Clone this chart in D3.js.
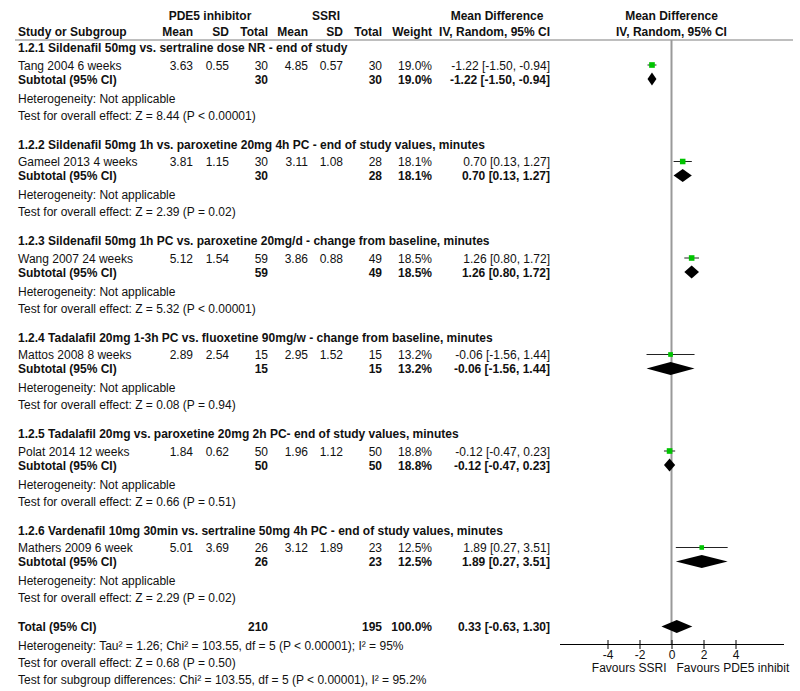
<!DOCTYPE html>
<html>
<head>
<meta charset="utf-8">
<script src="https://cdn.jsdelivr.net/npm/d3@7/dist/d3.min.js"></script>
<style>
  html, body { margin: 0; padding: 0; background: #fff; }
  svg text { font-family: Arial, "Liberation Sans", sans-serif; font-size: 12px; fill: #111; }
  .b { font-weight: bold; }
</style>
</head>
<body>
<svg id="chart" width="800" height="691"></svg>
<script>
// ---------------- DATA ----------------
const sectionLabels = [
  "1.2.1 Sildenafil 50mg vs. sertraline dose NR - end of study",
  "1.2.2 Sildenafil 50mg 1h vs. paroxetine 20mg 4h PC - end of study values, minutes",
  "1.2.3 Sildenafil 50mg 1h PC vs. paroxetine 20mg/d - change from baseline, minutes",
  "1.2.4 Tadalafil 20mg 1-3h PC vs. fluoxetine 90mg/w - change from baseline, minutes",
  "1.2.5 Tadalafil 20mg vs. paroxetine 20mg 2h PC- end of study values, minutes",
  "1.2.6 Vardenafil 10mg 30min vs. sertraline 50mg 4h PC - end of study values, minutes"
];
const studyNames = ["Tang 2004 6 weeks", "Gameel 2013 4 weeks", "Wang 2007 24 weeks",
                    "Mattos 2008 8 weeks", "Polat 2014 12 weeks", "Mathers 2009 6 week"];
const pdeMean = [3.63, 3.81, 5.12, 2.89, 1.84, 5.01];
const pdeSD   = [0.55, 1.15, 1.54, 2.54, 0.62, 3.69];
const pdeN    = [30, 30, 59, 15, 50, 26];
const ssriMean = [4.85, 3.11, 3.86, 2.95, 1.96, 3.12];
const ssriSD   = [0.57, 1.08, 0.88, 1.52, 1.12, 1.89];
const ssriN    = [30, 28, 49, 15, 50, 23];
const weights  = [19.0, 18.1, 18.5, 13.2, 18.8, 12.5];
const md  = [-1.22, 0.70, 1.26, -0.06, -0.12, 1.89];
const ciLo = [-1.50, 0.13, 0.80, -1.56, -0.47, 0.27];
const ciHi = [-0.94, 1.27, 1.72, 1.44, 0.23, 3.51];
const heterogeneityText = Array(6).fill("Heterogeneity: Not applicable");
const overallEffectText = [
  "Test for overall effect: Z = 8.44 (P < 0.00001)",
  "Test for overall effect: Z = 2.39 (P = 0.02)",
  "Test for overall effect: Z = 5.32 (P < 0.00001)",
  "Test for overall effect: Z = 0.08 (P = 0.94)",
  "Test for overall effect: Z = 0.66 (P = 0.51)",
  "Test for overall effect: Z = 2.29 (P = 0.02)"
];
const totalRow = { label: "Total (95% CI)", n1: 210, n2: 195, weight: 100.0, md: 0.33, lo: -0.63, hi: 1.30 };
const totalNotes = [
  "Heterogeneity: Tau\u00B2 = 1.26; Chi\u00B2 = 103.55, df = 5 (P < 0.00001); I\u00B2 = 95%",
  "Test for overall effect: Z = 0.68 (P = 0.50)",
  "Test for subgroup differences: Chi\u00B2 = 103.55, df = 5 (P < 0.00001), I\u00B2 = 95.2%"
];
const axisTicks = [-4, -2, 0, 2, 4];
const axisDomain = [-7, 7];
const favourLeft = "Favours SSRI";
const favourRight = "Favours PDE5 inhibit";

// ---------------- LAYOUT ----------------
const svg = d3.select("#chart");
const x = d3.scaleLinear().domain(axisDomain).range([559.5, 783.5]);
const col = { name: 18, m1: 193, sd1: 229, n1: 268, m2: 308, sd2: 343, n2: 382, w: 432, ci: 550 };
const sectionTop = 52, sectionStep = 96.5;
const off = { study: 17.5, sub: 31.5, het: 50.5, test: 67.5 };
const axisY = 644;
const f2 = v => (+v).toFixed(2), f1 = v => (+v).toFixed(1);
const ciText = (m, l, h) => `${f2(m)} [${f2(l)}, ${f2(h)}]`;

function txt(xp, yp, s, anchor, bold) {
  svg.append("text").attr("x", xp).attr("y", yp)
    .attr("text-anchor", anchor || "start")
    .attr("class", bold ? "b" : null).text(s);
}

// header
txt(210, 20, "PDE5 inhibitor", "middle", true);
txt(326, 20, "SSRI", "middle", true);
txt(497, 20, "Mean Difference", "middle", true);
txt(x(0), 20, "Mean Difference", "middle", true);
txt(col.name, 36, "Study or Subgroup", "start", true);
[["Mean", col.m1], ["SD", col.sd1], ["Total", col.n1], ["Mean", col.m2], ["SD", col.sd2], ["Total", col.n2], ["Weight", col.w]]
  .forEach(([s, xp]) => txt(xp, 36, s, "end", true));
txt(col.ci, 36, "IV, Random, 95% CI", "end", true);
txt(x(0), 36, "IV, Random, 95% CI", "middle", true);

svg.append("line").attr("x1", 15).attr("x2", 793).attr("y1", 40).attr("y2", 40)
  .attr("stroke", "#a8a8a8").attr("stroke-width", 1.5);

// zero line
svg.append("line").attr("x1", x(0)).attr("x2", x(0)).attr("y1", 40).attr("y2", axisY)
  .attr("stroke", "#999").attr("stroke-width", 2);

const marks = svg.append("g");
function diamond(cy, m, l, h, half) {
  const pts = [[x(l), cy], [x(m), cy - half], [x(h), cy], [x(m), cy + half]];
  marks.append("path").attr("d", "M" + pts.join("L") + "Z").attr("fill", "#000");
}

sectionLabels.forEach((lab, i) => {
  const y0 = sectionTop + i * sectionStep;
  txt(col.name, y0, lab, "start", true);
  const ys = y0 + off.study;
  txt(col.name, ys, studyNames[i]);
  txt(col.m1, ys, f2(pdeMean[i]), "end");
  txt(col.sd1, ys, f2(pdeSD[i]), "end");
  txt(col.n1, ys, pdeN[i], "end");
  txt(col.m2, ys, f2(ssriMean[i]), "end");
  txt(col.sd2, ys, f2(ssriSD[i]), "end");
  txt(col.n2, ys, ssriN[i], "end");
  txt(col.w, ys, f1(weights[i]) + "%", "end");
  txt(col.ci, ys, ciText(md[i], ciLo[i], ciHi[i]), "end");
  const yb = y0 + off.sub;
  txt(col.name, yb, "Subtotal (95% CI)", "start", true);
  txt(col.n1, yb, pdeN[i], "end", true);
  txt(col.n2, yb, ssriN[i], "end", true);
  txt(col.w, yb, f1(weights[i]) + "%", "end", true);
  txt(col.ci, yb, ciText(md[i], ciLo[i], ciHi[i]), "end", true);
  txt(col.name, y0 + off.het, heterogeneityText[i]);
  txt(col.name, y0 + off.test, overallEffectText[i]);

  // study marker
  const cy = ys - 4.5;
  marks.append("line").attr("x1", x(ciLo[i])).attr("x2", x(ciHi[i])).attr("y1", cy).attr("y2", cy)
    .attr("stroke", "#222").attr("stroke-width", 1);
  const s = Math.sqrt(weights[i]) * 1.3;
  marks.append("rect").attr("x", x(md[i]) - s / 2).attr("y", cy - s / 2)
    .attr("width", s).attr("height", s).attr("fill", "#00c400");
  diamond(yb - 4.5, md[i], ciLo[i], ciHi[i], 6.5);
});

// total
const yT = sectionTop + 6 * sectionStep;
txt(col.name, yT, totalRow.label, "start", true);
txt(col.n1, yT, totalRow.n1, "end", true);
txt(col.n2, yT, totalRow.n2, "end", true);
txt(col.w, yT, f1(totalRow.weight) + "%", "end", true);
txt(col.ci, yT, ciText(totalRow.md, totalRow.lo, totalRow.hi), "end", true);
diamond(yT - 4.5, totalRow.md, totalRow.lo, totalRow.hi, 6.5);
totalNotes.forEach((s, k) => txt(col.name, yT + 19 + k * 17, s));

// axis
const ax = svg.append("g").attr("transform", `translate(0,${axisY})`)
  .call(d3.axisBottom(x).tickValues(axisTicks).tickSize(5).tickSizeOuter(0).tickFormat(d => String(d)));
ax.select(".domain").attr("stroke", "#000");
ax.selectAll(".tick line").attr("stroke", "#000").attr("y1", -4);
ax.selectAll(".tick text").attr("y", 6).attr("font-size", 12).attr("font-family", "Arial, 'Liberation Sans', sans-serif").attr("fill", "#111");
svg.append("text").attr("x", x(0) - 5).attr("y", 672).attr("text-anchor", "end").text(favourLeft);
svg.append("text").attr("x", x(0) + 5).attr("y", 672).attr("text-anchor", "start").text(favourRight);
</script>
</body>
</html>
